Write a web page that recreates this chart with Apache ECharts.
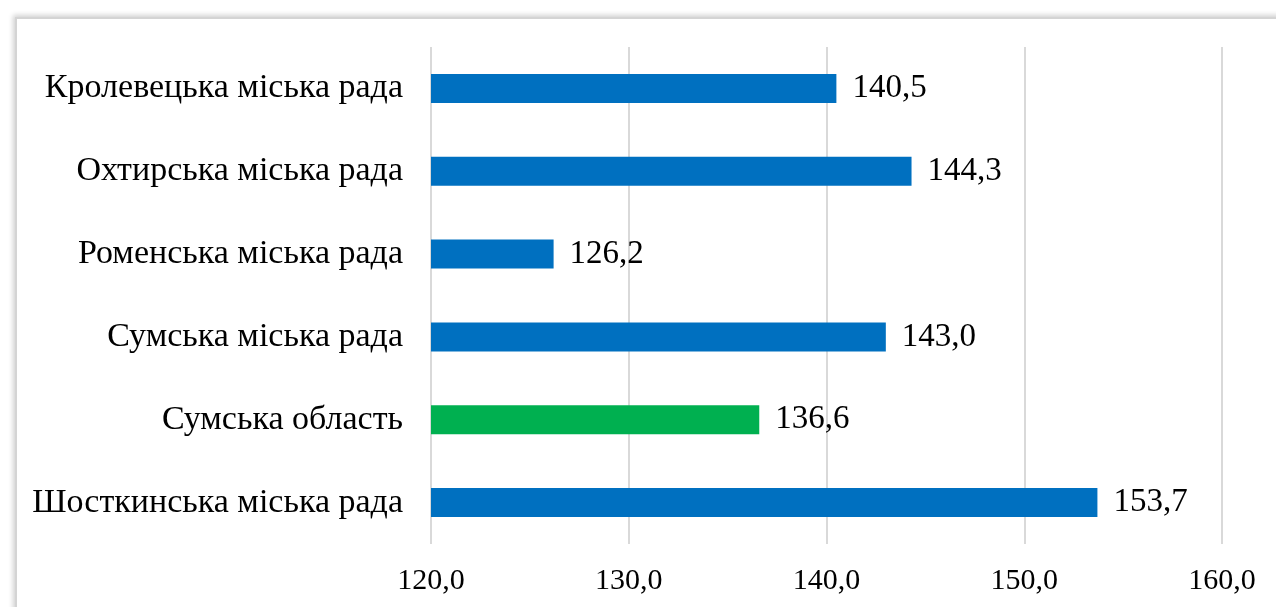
<!DOCTYPE html>
<html>
<head>
<meta charset="utf-8">
<script src="https://cdn.jsdelivr.net/npm/echarts@6/dist/echarts.min.js"></script>
<style>
html,body{margin:0;padding:0;background:#fff;width:1276px;height:607px;overflow:hidden;}
#frame{position:absolute;left:15px;top:17px;width:1300px;height:640px;border-left:2px solid #d4d4d4;border-top:2px solid #d4d4d4;box-shadow:-2px -2px 5px rgba(0,0,0,0.18);background:#fff;}
#chart{position:absolute;left:0;top:0;width:1276px;height:607px;}
</style>
</head>
<body>
<div id="frame"></div>
<div id="chart"></div>
<script>
const categories = ["Кролевецька міська рада","Охтирська міська рада","Роменська міська рада","Сумська міська рада","Сумська область","Шосткинська міська рада"];
const values = [140.5, 144.3, 126.2, 143.0, 136.6, 153.7];
const barColors = ["#0070C0","#0070C0","#0070C0","#0070C0","#00B050","#0070C0"];
const xTicks = [120, 130, 140, 150, 160];

const FONT = "'Liberation Serif', 'DejaVu Serif', serif";
const chart = echarts.init(document.getElementById('chart'), null, {renderer:'canvas'});
chart.setOption({
  animation:false,
  backgroundColor:'transparent',
  grid:{left:431, right:54, top:47, bottom:63, containLabel:false},
  xAxis:{
    type:'value', min:xTicks[0], max:xTicks[xTicks.length-1], interval:10,
    axisLine:{show:false}, axisTick:{show:false},
    splitLine:{show:true, lineStyle:{color:'#d9d9d9', width:2}},
    axisLabel:{fontFamily:FONT, fontSize:30, color:'#000', margin:22,
      formatter:v=>v.toFixed(1).replace('.',',')}
  },
  yAxis:{
    type:'category', data:categories, inverse:true,
    axisLine:{show:false}, axisTick:{show:false},
    axisLabel:{fontFamily:FONT, fontSize:34, color:'#000', margin:28, padding:[4,0,0,0]}
  },
  series:[{
    type:'bar',
    data:values.map((v,i)=>({value:v, itemStyle:{color:barColors[i]}})),
    barCategoryGap:'65%',
    label:{show:true, position:'right', distance:16, fontFamily:FONT, fontSize:33, color:'#000',
      padding:[5,0,0,0],
      formatter:p=>p.value.toFixed(1).replace('.',',')}
  }]
});
</script>
</body>
</html>
